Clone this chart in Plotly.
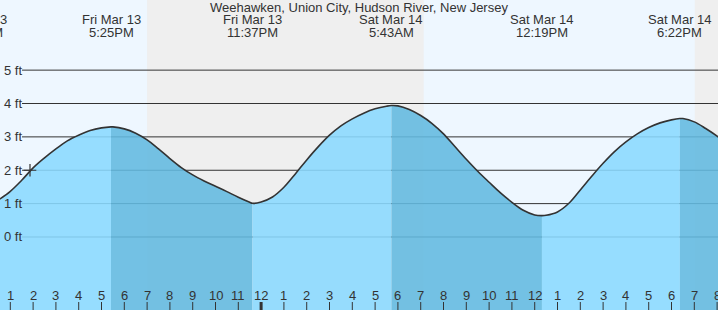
import plotly.graph_objects as go

# ---------------- data (hours counted from Fri Mar 13, 00:00) ----------------
tide_times = [12.5, 13.0, 13.5, 14.0, 14.5, 15.0, 15.5, 16.0, 16.5, 17.0, 17.417,
              17.5, 18.0, 18.5, 19.0, 19.5, 20.0, 20.5, 21.0, 21.5, 22.0, 22.5,
              23.0, 23.5, 23.617, 24.0, 24.5, 25.0, 25.5, 26.0, 26.5, 27.0, 27.5,
              28.0, 28.5, 29.0, 29.5, 29.717, 30.0, 30.5, 31.0, 31.5, 32.0, 32.5,
              33.0, 33.5, 34.0, 34.5, 35.0, 35.5, 36.0, 36.317, 36.5, 37.0, 37.5,
              38.0, 38.5, 39.0, 39.5, 40.0, 40.5, 41.0, 41.5, 42.0, 42.367, 42.5,
              43.0, 43.5, 44.0, 44.5]
tide_heights = [1.12, 1.37, 1.70, 2.07, 2.37, 2.64, 2.88, 3.05, 3.19, 3.27, 3.30,
                3.30, 3.24, 3.11, 2.91, 2.64, 2.35, 2.08, 1.86, 1.68, 1.52, 1.36,
                1.19, 1.04, 1.01, 1.05, 1.20, 1.49, 1.89, 2.31, 2.70, 3.05, 3.33,
                3.54, 3.71, 3.84, 3.92, 3.94, 3.93, 3.82, 3.64, 3.40, 3.09, 2.71,
                2.33, 1.97, 1.64, 1.32, 1.04, 0.80, 0.66, 0.64, 0.65, 0.75, 1.01,
                1.41, 1.82, 2.21, 2.56, 2.85, 3.09, 3.28, 3.42, 3.51, 3.55, 3.55,
                3.45, 3.25, 3.02, 2.75]

extreme_times = [11.567, 17.417, 23.617, 29.717, 36.317, 42.367]
extreme_dates = ["Fri Mar 13", "Fri Mar 13", "Fri Mar 13", "Sat Mar 14", "Sat Mar 14", "Sat Mar 14"]
extreme_clock = ["11:34AM", "5:25PM", "11:37PM", "5:43AM", "12:19PM", "6:22PM"]

night_start = [19.0, 43.02]
night_end = [31.13, 45.0]

hour_ticks = list(range(13, 45))
hour_labels = ["1", "2", "3", "4", "5", "6", "7", "8", "9", "10", "11", "12",
               "1", "2", "3", "4", "5", "6", "7", "8", "9", "10", "11", "12",
               "1", "2", "3", "4", "5", "6", "7", "8"]
midnight_tick = 24

ft_ticks = [0, 1, 2, 3, 4, 5]
ft_labels = ["0 ft", "1 ft", "2 ft", "3 ft", "4 ft", "5 ft"]

now_time = 13.864
now_height = 2.0

title_text = "Weehawken, Union City, Hudson River, New Jersey"

# ---------------- styling ----------------
W, H = 718, 310
X_RANGE = [12.548, 12.548 + W / 22.8]
Y_RANGE = [-2.188, 7.102]
DAY = "#eef7ff"
NIGHT = "#efefef"
RISE = "rgba(138,217,255,0.88)"
FALL = "rgba(98,185,224,0.88)"
INK = "#333333"
FONT = "Liberation Sans, Arial, sans-serif"


def ypaper(px):
    return 1 - px / H


def xpaper(h):
    return (h - X_RANGE[0]) / (X_RANGE[1] - X_RANGE[0])


fig = go.Figure()

# fills between consecutive extremes (rising light, falling dark)
bounds = [tide_times[0]] + extreme_times[1:] + [tide_times[-1]]
for i in range(len(bounds) - 1):
    a, b = bounds[i], bounds[i + 1]
    xs = [t for t in tide_times if a <= t <= b]
    ys = [v for t, v in zip(tide_times, tide_heights) if a <= t <= b]
    fig.add_trace(go.Scatter(x=[xs[0], xs[-1]], y=[-3, -3], mode="lines",
                             line=dict(width=0), hoverinfo="skip"))
    fig.add_trace(go.Scatter(x=xs, y=ys, mode="lines", fill="tonexty",
                             fillcolor=RISE if i % 2 == 0 else FALL,
                             line=dict(width=0, shape="spline"), hoverinfo="skip"))

# tide curve
fig.add_trace(go.Scatter(x=tide_times, y=tide_heights, mode="lines",
                         line=dict(color=INK, width=1.6, shape="spline"),
                         hoverinfo="skip"))
# current position marker
fig.add_trace(go.Scatter(x=[now_time], y=[now_height], mode="markers",
                         marker=dict(symbol="cross-thin", size=9,
                                     line=dict(color=INK, width=1.2)),
                         hoverinfo="skip"))

shapes = []
for s, e in zip(night_start, night_end):
    shapes.append(dict(type="rect", xref="x", yref="paper", x0=s, x1=e, y0=0, y1=1,
                       fillcolor=NIGHT, line=dict(width=0), layer="below"))
for v in ft_ticks:
    shapes.append(dict(type="line", xref="paper", yref="y", x0=22 / W, x1=1, y0=v, y1=v,
                       line=dict(color=INK, width=1), layer="below"))
for h in hour_ticks:
    shapes.append(dict(type="line", xref="x", yref="paper", x0=h, x1=h, y0=0, y1=8 / H,
                       line=dict(color=INK, width=3 if h == midnight_tick else 1)))

ann = []
ann.append(dict(text=title_text, xref="paper", yref="paper", x=0.5, y=ypaper(8),
                xanchor="center", yanchor="middle", showarrow=False,
                font=dict(size=13, color=INK, family=FONT)))
for t, d, c in zip(extreme_times, extreme_dates, extreme_clock):
    for txt, py in ((d, 19.5), (c, 32)):
        ann.append(dict(text=txt, xref="paper", yref="paper", x=xpaper(t), y=ypaper(py),
                        xanchor="center", yanchor="middle", showarrow=False,
                        font=dict(size=13, color=INK, family=FONT)))
for v, lab in zip(ft_ticks, ft_labels):
    ann.append(dict(text=lab, xref="paper", yref="y", x=2 / W, y=v,
                    xanchor="left", yanchor="middle", showarrow=False,
                    font=dict(size=13, color=INK, family=FONT)))
for h, lab in zip(hour_ticks, hour_labels):
    ann.append(dict(text=lab, xref="x", yref="paper", x=h, y=ypaper(295.5),
                    xanchor="center", yanchor="middle", showarrow=False,
                    font=dict(size=13, color=INK, family=FONT)))

fig.update_layout(
    width=W, height=H, margin=dict(l=0, r=0, t=0, b=0, pad=0),
    paper_bgcolor=DAY, plot_bgcolor=DAY, showlegend=False,
    xaxis=dict(range=X_RANGE, visible=False, fixedrange=True),
    yaxis=dict(range=Y_RANGE, visible=False, fixedrange=True),
    shapes=shapes, annotations=ann,
)

fig.write_html("out.html", config={"displayModeBar": False})
